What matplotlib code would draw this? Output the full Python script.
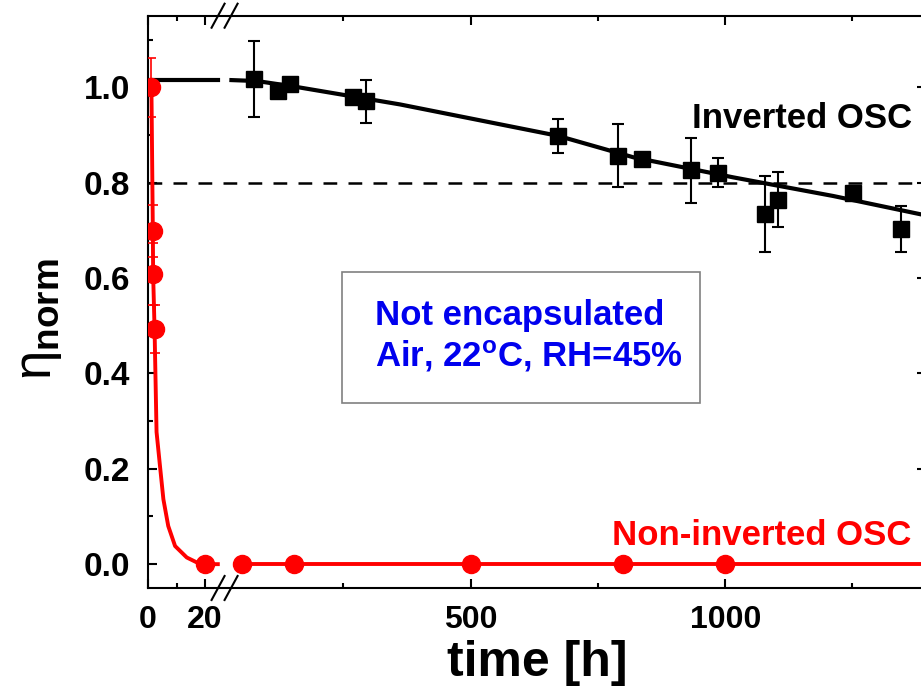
import numpy as np
import matplotlib.pyplot as plt
from matplotlib.ticker import FixedLocator, MultipleLocator
from matplotlib.patches import Rectangle

plt.rcParams['font.family'] = ['Liberation Sans', 'DejaVu Sans']
plt.rcParams['font.weight'] = 'bold'
plt.rcParams['mathtext.fontset'] = 'custom'
plt.rcParams['mathtext.rm'] = 'Liberation Sans:weight=normal'
plt.rcParams['mathtext.bf'] = 'Liberation Sans:bold'
plt.rcParams['mathtext.it'] = 'Liberation Sans:italic'

# inverted OSC (black squares) and its fit
inv_t = [74, 122, 145, 268, 294, 672, 790, 837, 932, 985, 1078, 1104, 1251, 1346]
inv_eta = [1.017, 0.992, 1.006, 0.980, 0.971, 0.898, 0.856, 0.849, 0.826, 0.821,
           0.734, 0.764, 0.779, 0.702]
inv_err = [0.080, 0, 0, 0, 0.045, 0.035, 0.066, 0, 0.068, 0.030, 0.080, 0.058, 0, 0.048]
inv_fit_left_t = [0, 24.5]
inv_fit_left = [1.015, 1.015]
inv_fit_right_t = [30, 80, 150, 300, 361, 672, 820, 1016, 1212, 1400]
inv_fit_right = [1.015, 1.013, 1.002, 0.975, 0.964, 0.898, 0.853, 0.811, 0.772, 0.730]

# non-inverted OSC (red dots) and its fit
non_t = [1.2, 1.7, 1.8, 2.3, 20, 50, 152, 500, 800, 1000]
non_eta = [1.0, 0.698, 0.608, 0.493, 0, 0, 0, 0, 0, 0]
non_err = [0.062, 0.055, 0.065, 0.05, 0, 0, 0, 0, 0, 0]
non_fit_left_t = [1.2, 1.7, 1.8, 2.3, 3.0, 4.2, 5.4, 7.1, 9.5, 13.6, 17, 20, 24.5]
non_fit_left = [1.0, 0.698, 0.608, 0.493, 0.277, 0.206, 0.136, 0.080, 0.038, 0.014,
                0.004, 0.0, 0.0]
non_fit_right_t = [50, 152, 500, 800, 1000, 1400]
non_fit_right = [0, 0, 0, 0, 0, 0]

threshold = 0.8
x_major = [0, 20, 500, 1000, 1500]
x_minor = [10, 250, 750, 1250]


# broken time axis: 0-25 h stretched, then a jump to the long-time part
def fwd(t):
    t = np.asarray(t, dtype=float)
    return np.where(t <= 25, 2.85 * t,
                    np.where(t <= 27, 71.25 + (t - 25) * 5.325,
                             81.9 + 0.509 * (t - 27)))


def inv(u):
    u = np.asarray(u, dtype=float)
    return np.where(u <= 71.25, u / 2.85,
                    np.where(u <= 81.9, 25 + (u - 71.25) / 5.325,
                             27 + (u - 81.9) / 0.509))


fig = plt.figure(figsize=(9.21, 6.94), dpi=100)
ax = fig.add_axes([148 / 921, 106 / 694, 778 / 921, 572.3 / 694])
ax.set_xscale('function', functions=(fwd, inv))
ax.set_xlim(0, 1394.5)
ax.set_ylim(-0.05, 1.15)

ax.axhline(threshold, color='black', lw=1.8, ls=(0, (5.5, 4.5)), zorder=1)

ax.plot(inv_fit_left_t, inv_fit_left, color='black', lw=3, zorder=2)
ax.plot(inv_fit_right_t, inv_fit_right, color='black', lw=3, zorder=2)
ax.errorbar(inv_t, inv_eta, yerr=inv_err, fmt='s', color='black', ms=12,
            elinewidth=1.5, capsize=4.2, capthick=1.5, zorder=3)

ax.plot(non_fit_left_t, non_fit_left, color='red', lw=2.8, zorder=4)
ax.plot(non_fit_right_t, non_fit_right, color='red', lw=2.8, zorder=4)
ax.errorbar(non_t, non_eta, yerr=non_err, fmt='o', color='red', ms=13,
            elinewidth=1.2, capsize=3.5, capthick=1.2, zorder=5)

ax.xaxis.set_major_locator(FixedLocator(x_major))
ax.xaxis.set_minor_locator(FixedLocator(x_minor))
ax.yaxis.set_major_locator(MultipleLocator(0.2))
ax.yaxis.set_minor_locator(MultipleLocator(0.1))
ax.tick_params(which='both', direction='in', top=True, right=True, width=1.5)
ax.tick_params(which='major', length=6.5, labelsize=23, pad=12)
ax.tick_params(axis='y', which='major', labelsize=24, pad=13)
ax.tick_params(which='minor', length=3.6)
for s in ax.spines.values():
    s.set_linewidth(1.5)

ax.set_xlabel('time [h]', fontsize=36, fontweight='bold', labelpad=4)
ax.set_ylabel(r'$\mathrm{\eta}_{\mathbf{norm}}$', fontsize=38)
ax.yaxis.set_label_coords(-0.108, 0.47)

# break marks on top and bottom spines
fig.canvas.draw()
bb = ax.get_window_extent()
xb = (ax.transData.transform((26, 0))[0] - bb.x0) / bb.width
dx, dy = 13 / bb.width, 12 / bb.height
for y0 in (0, 1):
    for off in (-dx, 0):
        ax.plot([xb + off, xb + off + dx], [y0 - dy, y0 + dy], color='black', lw=1.5,
                transform=ax.transAxes, clip_on=False, zorder=6)

# annotation box
ax.add_patch(Rectangle((0.2494, 0.3233), 0.460, 0.2289, transform=ax.transAxes,
                       fill=False, edgecolor='#808080', lw=1.2, zorder=1))
ax.text(0.2918, 0.4595, 'Not encapsulated', transform=ax.transAxes, color='#0000EE',
        fontsize=25, fontweight='bold', va='baseline')
ax.text(0.2918, 0.3867, r'Air, 22$^{\mathbf{o}}$C, RH=45%', transform=ax.transAxes,
        color='#0000EE', fontsize=25, fontweight='bold', va='baseline')

ax.text(0.699, 0.804, 'Inverted OSC', transform=ax.transAxes, color='black',
        fontsize=25, fontweight='bold', va='baseline')
ax.text(0.596, 0.0751, 'Non-inverted OSC', transform=ax.transAxes, color='red',
        fontsize=25, fontweight='bold', va='baseline')

fig.savefig('out.png', dpi=100)
